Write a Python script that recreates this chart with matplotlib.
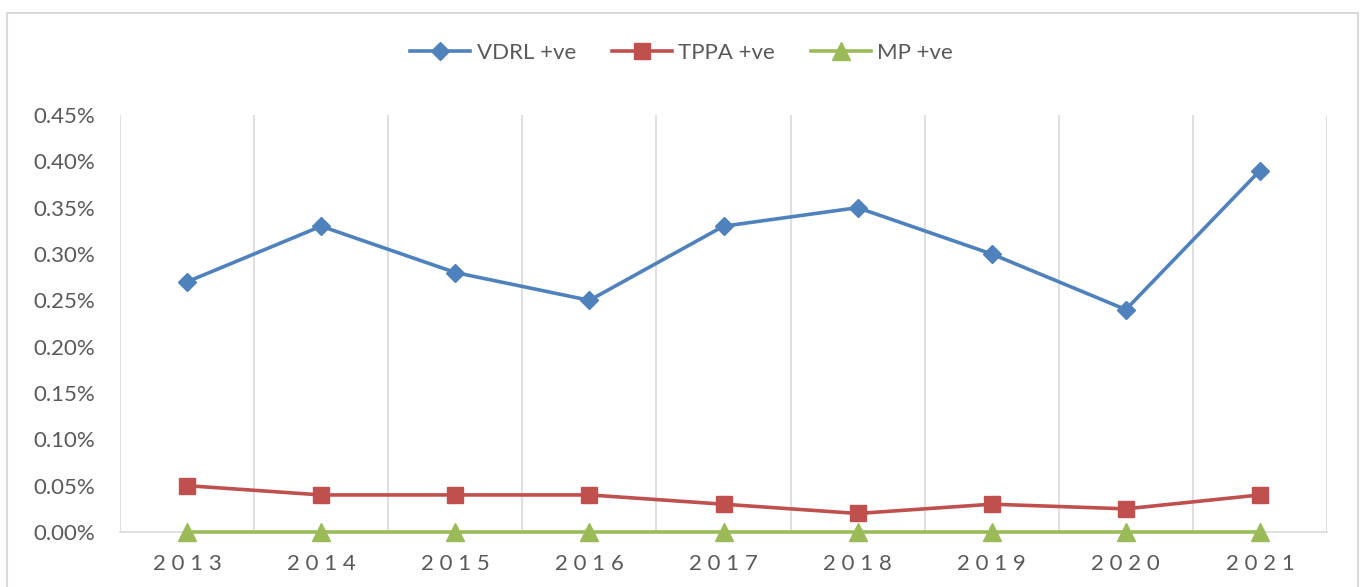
import numpy as np
import matplotlib.pyplot as plt
from matplotlib.ticker import FuncFormatter, MultipleLocator
from matplotlib.patches import Rectangle

years = ["2013", "2014", "2015", "2016", "2017", "2018", "2019", "2020", "2021"]
vdrl = [0.27, 0.33, 0.28, 0.25, 0.33, 0.35, 0.30, 0.24, 0.39]
tppa = [0.05, 0.04, 0.04, 0.04, 0.03, 0.02, 0.03, 0.025, 0.04]
mp = [0, 0, 0, 0, 0, 0, 0, 0, 0]

plt.rcParams["font.family"] = ["Lato", "DejaVu Sans"]
txt = "#595959"
grid = "#D9D9D9"

fig = plt.figure(figsize=(13.63, 5.87), dpi=100)
fig.patches.append(Rectangle((7 / 1363, -0.01), 1351 / 1363, (587 - 13) / 587 + 0.01,
                             transform=fig.transFigure, fill=False, edgecolor=grid, linewidth=1.5))
ax = fig.add_axes([120 / 1363, 55 / 587, 1207 / 1363, 417 / 587])

x = np.arange(len(years))
ax.plot(x, vdrl, color="#4F81BD", linewidth=2.6, marker="D", markersize=9.5, label="VDRL +ve", zorder=4, clip_on=False)
ax.plot(x, tppa, color="#C0504D", linewidth=2.6, marker="s", markersize=11, label="TPPA +ve", zorder=4, clip_on=False)
ax.plot(x, mp, color="#9BBB59", linewidth=2.6, marker="^", markersize=13, label="MP +ve", zorder=5, clip_on=False)

ax.set_xlim(-0.5, len(years) - 0.5)
ax.set_ylim(0, 0.45)
ax.yaxis.set_major_locator(MultipleLocator(0.05))
ax.yaxis.set_major_formatter(FuncFormatter(lambda v, p: "%.2f%%" % v))
ax.set_xticks(x)
ax.set_xticklabels([" ".join(y) for y in years])
ax.set_xticks(np.arange(-0.5, len(years)), minor=True)
ax.grid(True, which="minor", axis="x", color=grid, linewidth=1.2)
ax.tick_params(which="both", length=0)
ax.tick_params(axis="y", labelsize=16, labelcolor=txt, pad=18)
ax.tick_params(axis="x", labelsize=16, labelcolor=txt, pad=16)
for s in ["top", "left", "right"]:
    ax.spines[s].set_visible(False)
ax.spines["bottom"].set_color(grid)
ax.spines["bottom"].set_linewidth(1.2)

leg = fig.legend(loc="center", bbox_to_anchor=(0.5, 1 - 53 / 587), ncol=3, frameon=False,
                 fontsize=16, handlelength=2.7, columnspacing=1.6, handletextpad=0.3)
for t in leg.get_texts():
    t.set_color(txt)

fig.savefig("out.png", dpi=100)
